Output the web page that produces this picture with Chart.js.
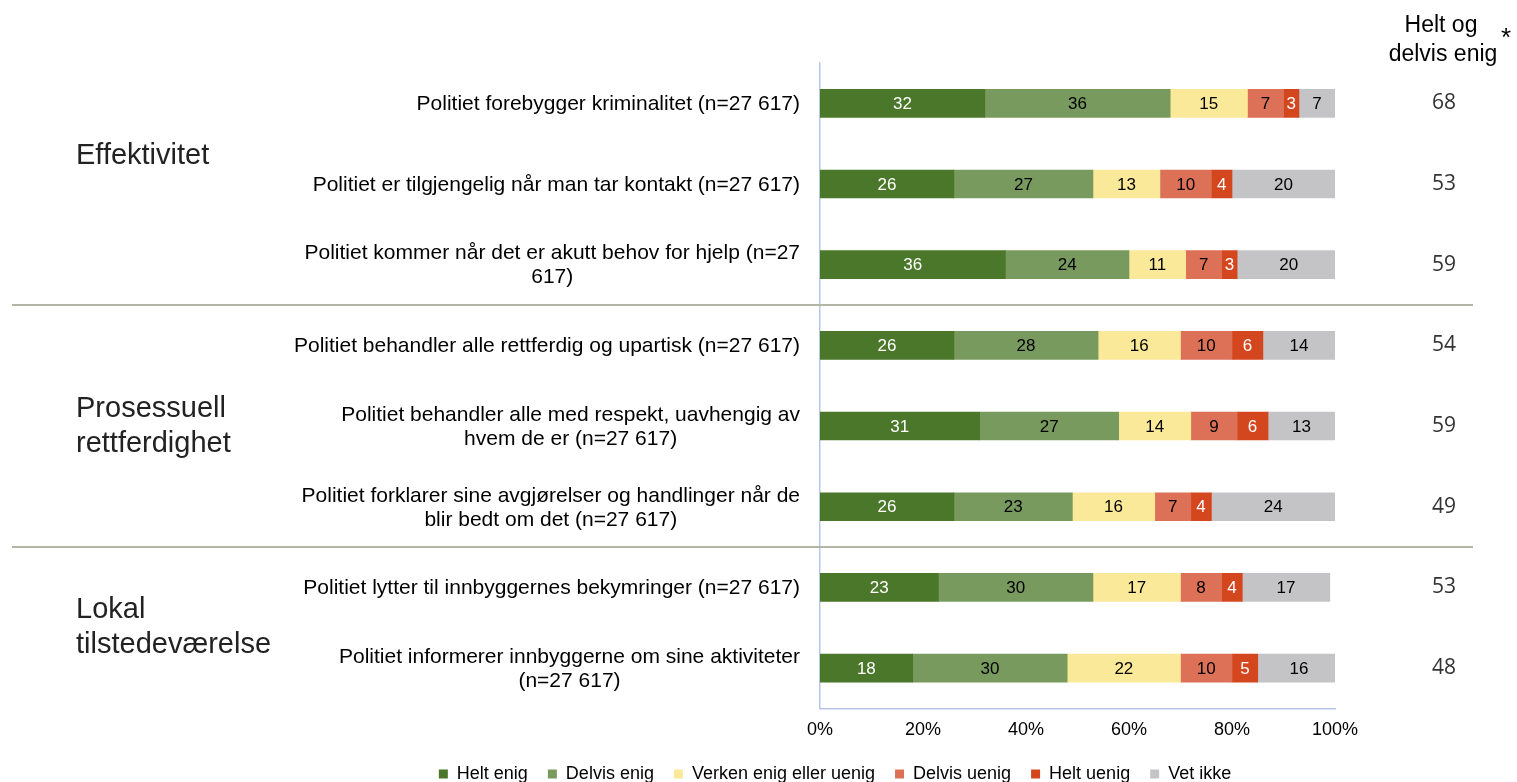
<!DOCTYPE html>
<html>
<head>
<meta charset="utf-8">
<script src="https://cdn.jsdelivr.net/npm/chart.js@4.4.0/dist/chart.umd.min.js"></script>
<style>
  html, body { margin: 0; padding: 0; background: #fff; }
</style>
</head>
<body>
<canvas id="chartCanvas" width="1517" height="782"></canvas>
<script>
// Survey statements (multi-line as in the original)
const questions = [
  ['Politiet forebygger kriminalitet (n=27 617)'],
  ['Politiet er tilgjengelig når man tar kontakt (n=27 617)'],
  ['Politiet kommer når det er akutt behov for hjelp (n=27', '617)'],
  ['Politiet behandler alle rettferdig og upartisk (n=27 617)'],
  ['Politiet behandler alle med respekt, uavhengig av', 'hvem de er (n=27 617)'],
  ['Politiet forklarer sine avgjørelser og handlinger når de', 'blir bedt om det (n=27 617)'],
  ['Politiet lytter til innbyggernes bekymringer (n=27 617)'],
  ['Politiet informerer innbyggerne om sine aktiviteter', '(n=27 617)']
];

const heltEnig    = [32, 26, 36, 26, 31, 26, 23, 18];
const delvisEnig  = [36, 27, 24, 28, 27, 23, 30, 30];
const verken      = [15, 13, 11, 16, 14, 16, 17, 22];
const delvisUenig = [7, 10, 7, 10, 9, 7, 8, 10];
const heltUenig   = [3, 4, 3, 6, 6, 4, 4, 5];
const vetIkke     = [7, 20, 20, 14, 13, 24, 17, 16];

// "Helt og delvis enig" column, as printed
const totals = [68, 53, 59, 54, 59, 49, 53, 48];

const groupNames = [['Effektivitet'], ['Prosessuell', 'rettferdighet'], ['Lokal', 'tilstedeværelse']];
const groupAnchors = [0.65, 4, 6.5];   // category position of each group label
const groupBreaks = [2.5, 5.5];        // separator lines between groups

const FONT = '"Liberation Sans", Arial, sans-serif';

const series = [
  { label: 'Helt enig', data: heltEnig, color: '#4a7729', text: '#fff' },
  { label: 'Delvis enig', data: delvisEnig, color: '#789a5f', text: '#000' },
  { label: 'Verken enig eller uenig', data: verken, color: '#fbe99a', text: '#000' },
  { label: 'Delvis uenig', data: delvisUenig, color: '#dc7158', text: '#000' },
  { label: 'Helt uenig', data: heltUenig, color: '#d4461e', text: '#fff' },
  { label: 'Vet ikke', data: vetIkke, color: '#c4c4c6', text: '#000' }
];

// draws value labels, statement texts, group names, separators and header
const extras = {
  id: 'extras',
  afterDatasetsDraw(chart) {
    const ctx = chart.ctx;
    ctx.save();
    ctx.font = '17px ' + FONT;
    ctx.textAlign = 'center';
    ctx.textBaseline = 'middle';
    chart.data.datasets.forEach((ds, i) => {
      chart.getDatasetMeta(i).data.forEach((bar, j) => {
        const v = ds.data[j];
        if (!v) return;
        ctx.fillStyle = series[i].text;
        ctx.fillText(v, (bar.x + bar.base) / 2, bar.y + 1);
      });
    });
    ctx.restore();
  },
  afterDraw(chart) {
    const ctx = chart.ctx;
    const y = chart.scales.y;
    const area = chart.chartArea;
    ctx.save();
    ctx.textBaseline = 'middle';
    ctx.fillStyle = '#000';

    // statements, right-aligned block with centred lines
    ctx.font = '21px ' + FONT;
    ctx.textAlign = 'center';
    questions.forEach((lines, i) => {
      const cy = y.getPixelForValue(i);
      const w = Math.max(...lines.map(l => ctx.measureText(l).width));
      const cx = area.left - 20 - w / 2;
      const lh = 24;
      lines.forEach((l, k) => {
        ctx.fillText(l, cx, cy + (k - (lines.length - 1) / 2) * lh + 1);
      });
    });

    // group names
    ctx.font = '29px ' + FONT;
    ctx.textAlign = 'left';
    ctx.fillStyle = '#222';
    groupNames.forEach((lines, g) => {
      const cy = y.getPixelForValue(groupAnchors[g]);
      lines.forEach((l, k) => {
        ctx.fillText(l, 76, cy + (k - (lines.length - 1) / 2) * 35);
      });
    });

    // separators
    ctx.strokeStyle = '#b2b5a3';
    ctx.lineWidth = 2;
    groupBreaks.forEach(b => {
      const py = Math.round(y.getPixelForValue(b));
      ctx.beginPath();
      ctx.moveTo(12, py);
      ctx.lineTo(1473, py);
      ctx.stroke();
    });

    // header of the total column
    ctx.fillStyle = '#000';
    ctx.font = '23px ' + FONT;
    ctx.textAlign = 'center';
    ctx.fillText('Helt og', 1441, 26);
    ctx.fillText('delvis enig', 1443, 55);
    ctx.font = '26px ' + FONT;
    ctx.fillText('*', 1506, 39);
    ctx.restore();
  }
};

const myChart = new Chart(document.getElementById('chartCanvas'), {
  type: 'bar',
  data: {
    labels: questions.map(q => q.join(' ')),
    datasets: series.map(s => ({
      label: s.label,
      data: s.data,
      backgroundColor: s.color,
      borderWidth: 0,
      barThickness: 28
    }))
  },
  options: {
    indexAxis: 'y',
    responsive: false,
    animation: false,
    devicePixelRatio: 1,
    layout: { padding: { top: 63, left: 153, right: 0, bottom: -11 } },
    plugins: {
      legend: {
        position: 'bottom',
        labels: {
          boxWidth: 9,
          boxHeight: 9,
          padding: 20,
          color: '#000',
          font: { family: FONT, size: 18 }
        }
      },
      tooltip: { enabled: false }
    },
    scales: {
      x: {
        stacked: true,
        min: 0,
        max: 100,
        grid: { display: false, drawTicks: false },
        border: { color: '#b4c7e7', width: 1.5 },
        ticks: {
          stepSize: 20,
          padding: 11,
          color: '#000',
          font: { family: FONT, size: 18 },
          callback: v => v + '%'
        },
        afterFit: s => { s.height = s.height - 7; }
      },
      y: {
        stacked: true,
        grid: { display: false, drawTicks: false },
        border: { color: '#b4c7e7', width: 1.5 },
        ticks: { display: false },
        afterFit: s => { s.width = 667; }
      },
      y2: {
        type: 'category',
        position: 'right',
        labels: totals.map(String),
        offset: true,
        grid: { display: false, drawTicks: false },
        border: { display: false },
        ticks: {
          autoSkip: false,
          padding: 97,
          color: '#333',
          font: { family: '"Open Sans", sans-serif', size: 21 }
        },
        afterFit: s => {
          s.width = 182;
          s.paddingTop = 0;
          s.paddingBottom = 0;
        }
      }
    }
  },
  plugins: [extras]
});
</script>
</body>
</html>
